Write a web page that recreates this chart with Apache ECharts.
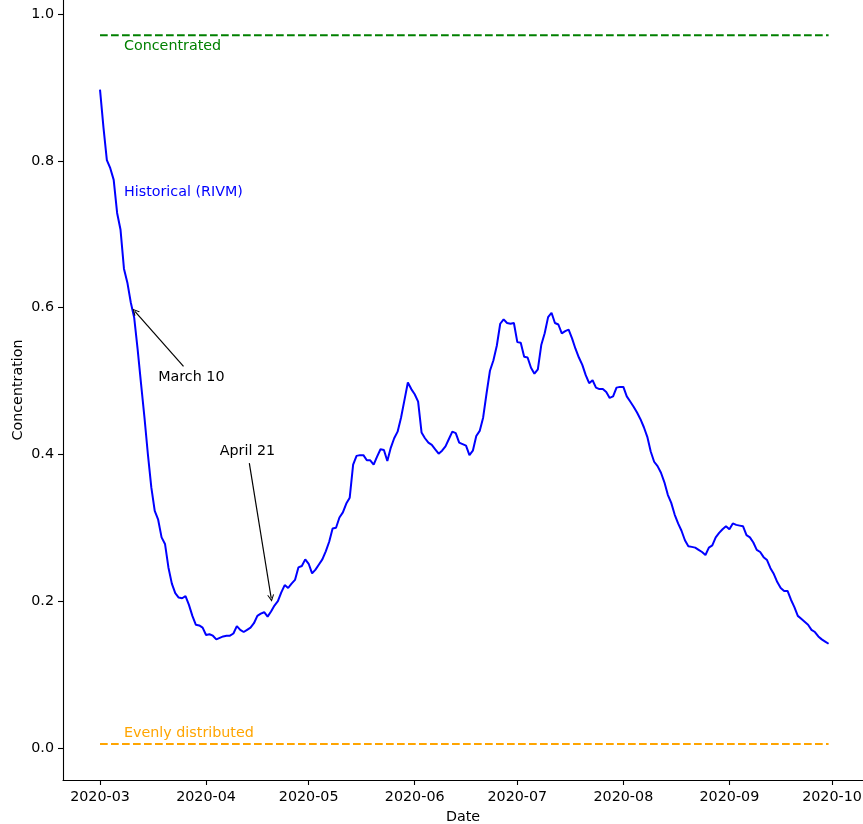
<!DOCTYPE html>
<html>
<head>
<meta charset="utf-8">
<script src="https://cdn.jsdelivr.net/npm/echarts@6/dist/echarts.min.js"></script>
<style>
html,body{margin:0;padding:0;background:#fff;}
#chart{width:863px;height:824px;}
</style>
</head>
<body>
<div id="chart"></div>
<script>
// ---- data ----
const startDate = '2020-03-01';
// daily concentration, 2020-03-01 .. 2020-09-30
const concentration = [
0.897,0.846,0.801,0.790,0.774,0.729,0.706,0.653,0.634,0.607,
0.586,0.543,0.496,0.450,0.400,0.355,0.323,0.311,0.287,0.278,
0.246,0.224,0.211,0.205,0.204,0.207,0.195,0.180,0.168,0.167,
0.164,0.154,0.155,0.153,0.148,0.150,0.152,0.153,0.153,0.156,
0.166,0.161,0.158,0.161,0.164,0.170,0.180,0.183,0.185,0.179,
0.186,0.194,0.200,0.212,0.222,0.218,0.224,0.229,0.246,0.248,
0.257,0.251,0.238,0.243,0.250,0.257,0.268,0.281,0.299,0.300,
0.314,0.321,0.333,0.341,0.386,0.398,0.399,0.399,0.392,0.392,
0.386,0.397,0.407,0.406,0.391,0.409,0.422,0.431,0.450,0.474,
0.498,0.489,0.482,0.472,0.430,0.422,0.416,0.413,0.407,0.401,
0.405,0.411,0.421,0.431,0.429,0.416,0.414,0.412,0.399,0.405,
0.425,0.432,0.450,0.483,0.514,0.528,0.548,0.578,0.584,0.579,
0.578,0.579,0.553,0.552,0.533,0.532,0.518,0.510,0.516,0.549,
0.565,0.587,0.593,0.579,0.577,0.565,0.568,0.570,0.558,0.544,
0.532,0.522,0.508,0.497,0.501,0.491,0.489,0.489,0.485,0.477,
0.479,0.491,0.492,0.492,0.479,0.472,0.465,0.457,0.448,0.437,
0.424,0.404,0.390,0.384,0.375,0.362,0.345,0.334,0.318,0.306,
0.296,0.283,0.275,0.274,0.273,0.270,0.267,0.263,0.273,0.276,
0.287,0.293,0.298,0.302,0.298,0.306,0.304,0.303,0.302,0.290,
0.287,0.280,0.270,0.267,0.260,0.256,0.245,0.237,0.226,0.218,
0.214,0.214,0.202,0.192,0.180,0.176,0.172,0.168,0.161,0.158,
0.152,0.148,0.145,0.142
];
const concentratedLevel = 0.971;
const evenLevel = 0.0055;
const monthTicks = ['2020-03-01','2020-04-01','2020-05-01','2020-06-01','2020-07-01','2020-08-01','2020-09-01','2020-10-01'];
const monthTickLabels = ['2020-03','2020-04','2020-05','2020-06','2020-07','2020-08','2020-09','2020-10'];
const yTicks = [0, 0.2, 0.4, 0.6, 0.8, 1.0];
const yTickLabels = ['0.0','0.2','0.4','0.6','0.8','1.0'];
// text notes (day offset from start date, value)
const textNotes = [
  {text:'Concentrated', day:7, value:0.9565, color:'#008000'},
  {text:'Historical (RIVM)', day:7, value:0.7575, color:'#0000ff'},
  {text:'Evenly distributed', day:7, value:0.0205, color:'#ffa500'},
  {text:'March 10', day:17, value:0.5055, color:'#000000'},
  {text:'April 21', day:35, value:0.4045, color:'#000000'}
];
// arrows: [tail day, tail value, head day, head value]
const arrows = [
  [24.41, 0.520, 10.2, 0.595],
  [43.65, 0.388, 50.05, 0.204]
];

// ---- build ----
const DAY = 86400000;
const t0 = new Date(startDate).getTime();
const dayOf = s => Math.round((new Date(s).getTime() - t0) / DAY);
const lineData = concentration.map((v, i) => [i, v]);
const lastDay = concentration.length - 1;
const tickDays = monthTicks.map(dayOf);
const FONT = 'DejaVu Sans';
const FS = 14.3;
const arrowPath = 'path://M0,10 L5,0 L10,10 L8.4,10 L5,3.2 L1.6,10 Z';

const notesBySeries = {};
textNotes.forEach(n => {
  (notesBySeries[n.color] = notesBySeries[n.color] || []).push(n);
});
function mp(color) {
  const list = notesBySeries[color] || [];
  return {
    silent: true,
    symbol: 'circle',
    symbolSize: 0,
    animation: false,
    label: {show: true, position: 'right', distance: 0, formatter: p => p.name,
            fontFamily: FONT, fontSize: FS},
    data: list.map(n => ({name: n.text, coord: [n.day, n.value],
            label: {color: n.color}}))
  };
}

const chart = echarts.init(document.getElementById('chart'), null, {renderer: 'canvas'});
chart.setOption({
  animation: false,
  backgroundColor: '#ffffff',
  grid: {left: 63, right: 0, top: 0, bottom: 44, containLabel: false, outerBoundsMode: 'none'},
  xAxis: {
    type: 'value',
    min: -10.82,
    max: 223.06,
    name: 'Date',
    nameLocation: 'middle',
    nameGap: 30,
    nameMoveOverlap: false,
    nameTextStyle: {fontFamily: FONT, fontSize: FS, color: '#000', verticalAlign: 'top'},
    axisLine: {show: true, onZero: false, lineStyle: {color: '#000', width: 1.1}},
    axisTick: {show: true, length: 5, inside: false, customValues: tickDays,
               lineStyle: {color: '#000', width: 1.1}},
    axisLabel: {show: true, margin: 10, customValues: tickDays,
                fontFamily: FONT, fontSize: FS, color: '#000',
                formatter: v => {
                  const i = tickDays.findIndex(d => Math.abs(d - v) < 1e-6);
                  return i >= 0 ? monthTickLabels[i] : '';
                }},
    splitLine: {show: false}
  },
  yAxis: {
    type: 'value',
    min: -0.0436,
    max: 1.0191,
    name: 'Concentration',
    nameLocation: 'middle',
    nameGap: 38,
    nameRotate: 90,
    nameMoveOverlap: false,
    nameTextStyle: {fontFamily: FONT, fontSize: FS, color: '#000'},
    axisLine: {show: true, onZero: false, lineStyle: {color: '#000', width: 1.1}},
    axisTick: {show: true, length: 5, inside: false, customValues: yTicks,
               lineStyle: {color: '#000', width: 1.1}},
    axisLabel: {show: true, margin: 9, customValues: yTicks,
                fontFamily: FONT, fontSize: FS, color: '#000',
                formatter: v => {
                  const i = yTicks.findIndex(y => Math.abs(y - v) < 1e-9);
                  return i >= 0 ? yTickLabels[i] : '';
                }},
    splitLine: {show: false}
  },
  series: [
    {
      name: 'Concentrated',
      type: 'line',
      showSymbol: false,
      silent: true,
      data: [[0, concentratedLevel], [lastDay, concentratedLevel]],
      lineStyle: {color: '#008000', width: 2, type: [7.7, 3.3]},
      markPoint: mp('#008000')
    },
    {
      name: 'Evenly distributed',
      type: 'line',
      showSymbol: false,
      silent: true,
      data: [[0, evenLevel], [lastDay, evenLevel]],
      lineStyle: {color: '#ffa500', width: 2, type: [7.7, 3.3]},
      markPoint: mp('#ffa500')
    },
    {
      name: 'Historical (RIVM)',
      type: 'line',
      showSymbol: false,
      silent: true,
      data: lineData,
      lineStyle: {color: '#0000ff', width: 2},
      markPoint: mp('#0000ff'),
      markLine: {
        silent: true,
        animation: false,
        symbol: ['none', arrowPath],
        symbolSize: [7, 7],
        label: {show: false},
        lineStyle: {color: '#000', width: 1.2, type: 'solid'},
        data: arrows.map(a => [{coord: [a[0], a[1]]}, {coord: [a[2], a[3]]}])
      }
    },
    {
      name: 'notes',
      type: 'line',
      showSymbol: false,
      silent: true,
      data: [],
      markPoint: mp('#000000')
    }
  ]
});
</script>
</body>
</html>
